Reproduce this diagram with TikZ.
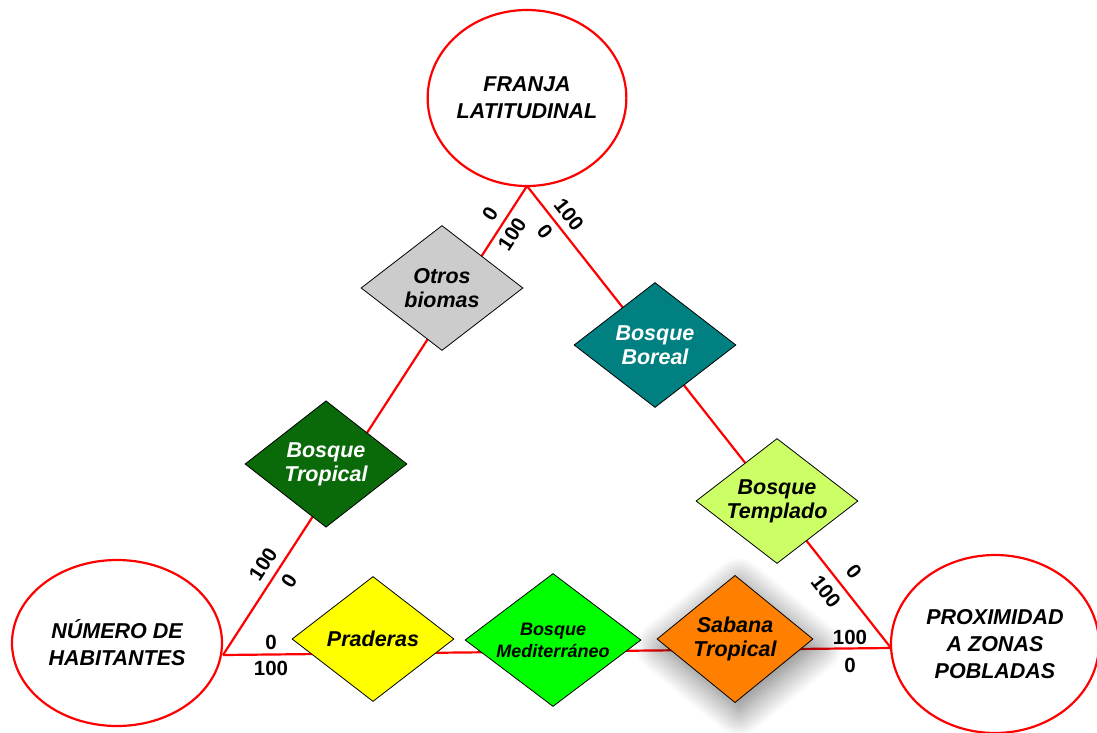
\documentclass[tikz,border=0pt]{standalone}
\usepackage{fontspec}
\setmainfont{Liberation Sans}
\usetikzlibrary{shapes.geometric,shadows.blur}
\definecolor{otros}{HTML}{CCCCCC}
\definecolor{trop}{HTML}{0A6A0A}
\definecolor{boreal}{HTML}{008080}
\definecolor{templ}{HTML}{CCFF66}
\definecolor{prad}{HTML}{FFFF00}
\definecolor{medit}{HTML}{00FF00}
\definecolor{sabana}{HTML}{FF8000}
\begin{document}
\begin{tikzpicture}[x=1pt,y=-1pt,
  biome/.style={ellipse, draw=red, line width=2.2pt, fill=white, inner sep=0pt,
    font=\fontsize{21.5}{27}\selectfont\bfseries\itshape, align=center},
  dia/.style={diamond, draw=black, line width=0.8pt, inner sep=0pt,
    minimum width=162pt, minimum height=125pt,
    font=\fontsize{21.5}{24}\selectfont\bfseries\itshape, align=center},
  axisline/.style={red, line width=2.2pt},
  tick/.style={font=\fontsize{20.5}{20}\selectfont\bfseries, inner sep=0pt}]
\useasboundingbox (0,0) rectangle (1097,733);
% corner ellipses
\node[biome, minimum width=198pt, minimum height=176pt] (fr) at (527,98) {FRANJA\\LATITUDINAL};
\node[biome, minimum width=210pt, minimum height=166pt] (nh) at (117,643) {NÚMERO DE\\HABITANTES};
\node[biome, minimum width=208pt, minimum height=178pt] (pz) at (995,644) {PROXIMIDAD\\A ZONAS\\POBLADAS};
% vertices
\coordinate (T) at (527,186);
\coordinate (L) at (223,655);
\coordinate (R) at (891,648);
\draw[axisline] (T) -- (L);
\draw[axisline] (T) -- (R);
\draw[axisline] (L) -- (R);
% diamonds
\node[dia, fill=otros] (ob) at (442,288) {Otros\\biomas};
\node[dia, fill=trop, text=white] (bt) at (326,464) {Bosque\\Tropical};
\node[dia, fill=boreal, text=white] (bb) at (655,345) {Bosque\\Boreal};
\node[dia, fill=templ, inner sep=-6pt] (btp) at (777,501) {Bosque\\Templado};
\node[dia, fill=prad] (pr) at (373,639) {Praderas};
\node[dia, fill=medit, minimum width=176pt, minimum height=133pt, inner sep=-12pt,
  font=\fontsize{18}{22}\selectfont\bfseries\itshape] (bm) at (553,640) {Bosque\\Mediterráneo};
\node[dia, fill=sabana, minimum width=156pt, minimum height=126pt,
  blur shadow={shadow xshift=4pt, shadow yshift=-8pt, shadow blur radius=26pt,
    shadow blur steps=30, shadow opacity=55}] (st) at (735,639) {Sabana\\Tropical};
% tick labels
\node[tick, rotate=57] (t1) at (490,214) {0};
\node[tick, rotate=57] (t2) at (512,234) {100};
\node[tick, rotate=-52] (t3) at (569,215) {100};
\node[tick, rotate=-52] (t4) at (545,232) {0};
\node[tick, rotate=57] (t5) at (263,564) {100};
\node[tick, rotate=57] (t6) at (289,581) {0};
\node[tick] (t7) at (271,642) {0};
\node[tick] (t8) at (271,668) {100};
\node[tick, rotate=-52] (t9) at (854,572) {0};
\node[tick, rotate=-52] (t10) at (826,592) {100};
\node[tick] (t11) at (850,637) {100};
\node[tick] (t12) at (850,665) {0};
\end{tikzpicture}
\end{document}
